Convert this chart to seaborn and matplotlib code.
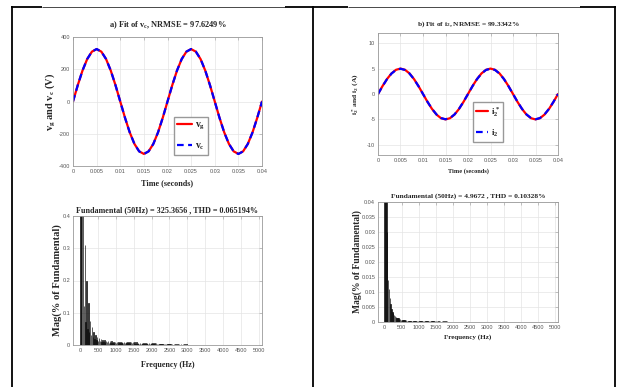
import numpy as np
import pandas as pd
import matplotlib
matplotlib.use("Agg")
import matplotlib.pyplot as plt
from matplotlib.lines import Line2D
from matplotlib.ticker import FuncFormatter, MultipleLocator
import seaborn as sns

# time samples of the two fitted waveforms (two 50 Hz cycles)
t = np.linspace(0, 0.04, 41)
v_g = [0, 100.4, 191.0, 262.9, 309.1, 325.0, 309.1, 262.9, 191.0, 100.4,
       0, -100.4, -191.0, -262.9, -309.1, -325.0, -309.1, -262.9, -191.0, -100.4,
       0, 100.4, 191.0, 262.9, 309.1, 325.0, 309.1, 262.9, 191.0, 100.4,
       0, -100.4, -191.0, -262.9, -309.1, -325.0, -309.1, -262.9, -191.0, -100.4, 0]
v_c = [0, 100.5, 191.2, 263.1, 309.3, 325.4, 309.4, 263.2, 191.3, 100.5,
       0, -100.5, -191.2, -263.1, -309.3, -325.4, -309.4, -263.2, -191.3, -100.5,
       0, 100.5, 191.2, 263.1, 309.3, 325.4, 309.4, 263.2, 191.3, 100.5,
       0, -100.5, -191.2, -263.1, -309.3, -325.4, -309.4, -263.2, -191.3, -100.5, 0]
i2_ref = [0, 1.55, 2.94, 4.05, 4.76, 5.0, 4.76, 4.05, 2.94, 1.55,
          0, -1.55, -2.94, -4.05, -4.76, -5.0, -4.76, -4.05, -2.94, -1.55,
          0, 1.55, 2.94, 4.05, 4.76, 5.0, 4.76, 4.05, 2.94, 1.55,
          0, -1.55, -2.94, -4.05, -4.76, -5.0, -4.76, -4.05, -2.94, -1.55, 0]
i2 = [0, 1.53, 2.92, 4.02, 4.73, 4.97, 4.73, 4.02, 2.92, 1.53,
      0, -1.53, -2.92, -4.02, -4.73, -4.97, -4.73, -4.02, -2.92, -1.53,
      0, 1.53, 2.92, 4.02, 4.73, 4.97, 4.73, 4.02, 2.92, 1.53,
      0, -1.53, -2.92, -4.02, -4.73, -4.97, -4.73, -4.02, -2.92, -1.53, 0]

# FFT magnitude (% of fundamental), 25 Hz bins from 0 to 3000 Hz
freq = np.arange(0, 3001, 25)
spec_vc = [
    0.75, 0.9, 100.0, 0.8, 0.12, 0.31, 0.07, 0.2, 0.05, 0.13,
    0.04, 0.075, 0.03, 0.055, 0.025, 0.04, 0.02, 0.032, 0.016, 0.026,
    0.013, 0.021, 0.011, 0.018, 0.010, 0.016, 0.009, 0.014, 0.008, 0.013,
    0.008, 0.012, 0.007, 0.011, 0.007, 0.011, 0.006, 0.010, 0.006, 0.010,
    0.006, 0.009, 0.005, 0.009, 0.005, 0.009, 0.005, 0.008, 0.005, 0.008,
    0.005, 0.008, 0.005, 0.008, 0.005, 0.009, 0.005, 0.009, 0.005, 0.009,
    0.006, 0.008, 0.004, 0.008, 0.004, 0.007, 0.004, 0.007, 0.004, 0.007,
    0.004, 0.007, 0.004, 0.006, 0.004, 0.006, 0.003, 0.006, 0.003, 0.006,
    0.003, 0.005, 0.003, 0.005, 0.003, 0.005, 0.003, 0.004, 0.002, 0.004,
    0.002, 0.004, 0.002, 0.004, 0.002, 0.003, 0.002, 0.003, 0.002, 0.003,
    0.002, 0.003, 0.001, 0.003, 0.001, 0.002, 0.001, 0.002, 0.001, 0.002,
    0.001, 0.002, 0.001, 0.002, 0.001, 0.002, 0.001, 0.002, 0.001, 0.002,
    0.001]
spec_i2 = [
    0.045, 0.06, 100.0, 0.03, 0.014, 0.011, 0.008, 0.006, 0.0045, 0.0035,
    0.003, 0.0025, 0.002, 0.0018, 0.0015, 0.0013, 0.0012, 0.001, 0.0009, 0.0008,
    0.0008, 0.0007, 0.0007, 0.0006, 0.0006, 0.0006, 0.0005, 0.0005, 0.0005, 0.0005,
    0.0004, 0.0005, 0.0004, 0.0004, 0.0004, 0.0004, 0.0003, 0.0004, 0.0003, 0.0004,
    0.0003, 0.0003, 0.0003, 0.0003, 0.0003, 0.0003, 0.0002, 0.0003, 0.0002, 0.0003,
    0.0002, 0.0003, 0.0002, 0.0002, 0.0002, 0.0002, 0.0002, 0.0002, 0.0002, 0.0002,
    0.0002, 0.0002, 0.0001, 0.0002, 0.0001, 0.0002, 0.0001, 0.0002, 0.0001, 0.0002,
    0.0001, 0.0002, 0.0001, 0.0002, 0.0001, 0.0001, 0.0001, 0.0001, 0.0001, 0.0001,
    0.0001, 0.0001, 0.0001, 0.0001, 0.0001, 0.0001, 0.0001, 0.0001, 0.0001, 0.0001,
    0.0001, 0.0001, 0.0001, 0.0001, 0.0001, 0.0001, 0.0001, 0.0001, 0.0001, 0.0001,
    0.0001, 0.0001, 0.0001, 0.0001, 0.0001, 0.0001, 0.0001, 0.0001, 0.0001, 0.0001,
    0.0001, 0.0001, 0.0001, 0.0001, 0.0001, 0.0001, 0.0001, 0.0001, 0.0001, 0.0001,
    0.0001]

W, H = 620, 387

sns.set_style("whitegrid")
plt.rcParams["font.family"] = ["Liberation Serif", "DejaVu Serif"]
plt.rcParams["font.weight"] = "bold"
plt.rcParams["mathtext.fontset"] = "custom"
plt.rcParams["mathtext.rm"] = "Liberation Serif:bold"
plt.rcParams["mathtext.it"] = "Liberation Serif:bold"
plt.rcParams["mathtext.bf"] = "Liberation Serif:bold"
plt.rcParams["axes.unicode_minus"] = False

fig = plt.figure(figsize=(W / 100, H / 100), dpi=100)


def px_axes(left, top, right, bottom):
    return fig.add_axes([left / W, 1 - bottom / H, (right - left) / W, (bottom - top) / H])


def style(ax):
    ax.set_facecolor("white")
    ax.grid(True, color="#e4e4e4", lw=0.5)
    ax.set_axisbelow(True)
    for s in ax.spines.values():
        s.set_color("#9a9a9a")
        s.set_linewidth(0.6)
    ax.tick_params(direction="in", length=2, width=0.4, colors="#9a9a9a",
                   labelcolor="#555555", labelsize=4, top=True, right=True, pad=2)
    for lab in ax.get_xticklabels() + ax.get_yticklabels():
        lab.set_family(["Liberation Sans Narrow", "Liberation Sans", "DejaVu Sans"])
        lab.set_weight("normal")
    fmt = FuncFormatter(lambda v, p: f"{v:g}")
    ax.xaxis.set_major_formatter(fmt)
    ax.yaxis.set_major_formatter(fmt)


def wave(ax, ref, fit, lab_ref, lab_fit):
    df = pd.DataFrame({"t": t, "ref": ref, "fit": fit})
    sns.lineplot(data=df, x="t", y="ref", color="red", lw=1.6, label=lab_ref, ax=ax)
    sns.lineplot(data=df, x="t", y="fit", color="blue", lw=1.6, label=lab_fit,
                 linestyle=(0, (3, 2)), ax=ax)
    ax.set_xlim(0, 0.04)
    ax.xaxis.set_major_locator(MultipleLocator(0.005))


def spectrum(ax, mag):
    df = pd.DataFrame({"f": freq, "m": mag})
    sns.barplot(data=df, x="f", y="m", native_scale=True, color="#3a3a3a",
                saturation=1, width=0.5, edgecolor="black", linewidth=0.45, ax=ax)
    ax.set_xticks(np.arange(0, 5001, 500))


# a) voltage
ax1 = px_axes(73, 37, 262, 166)
wave(ax1, v_g, v_c, "$v_g$", "$v_c$")
ax1.set_ylim(-400, 400)
ax1.yaxis.set_major_locator(MultipleLocator(200))
style(ax1)
ax1.set_title("a) Fit of $v_c$, NRMSE = 97.6249%", fontsize=6.0, fontweight="bold", pad=7)
ax1.set_xlabel("Time (seconds)", fontsize=5.9, fontweight="bold")
ax1.set_ylabel("$v_g$ and $v_c$ (V)", fontsize=7.5, fontweight="bold")
ax1.xaxis.set_label_coords(0.5, -0.10)
ax1.yaxis.set_label_coords(-0.085, 0.5)
ax1.legend(loc="lower left", bbox_to_anchor=(0.534, 0.085), fontsize=7,
           handlelength=1.5, labelspacing=0.9, borderpad=0.35, handletextpad=0.3,
           fancybox=False, edgecolor="#999999", framealpha=1, borderaxespad=0)

ax2 = px_axes(73, 216, 262, 345)
spectrum(ax2, spec_vc)
ax2.set_xlim(-205, 5095)
ax2.set_ylim(0, 0.4)
ax2.yaxis.set_major_locator(MultipleLocator(0.1))
style(ax2)
ax2.set_title("Fundamental (50Hz) = 325.3656 , THD = 0.065194%", fontsize=5.9,
              fontweight="bold", pad=2.4)
ax2.set_xlabel("Frequency (Hz)", fontsize=5.8, fontweight="bold")
ax2.set_ylabel("Mag(% of Fundamental)", fontsize=7.6, fontweight="bold")
ax2.xaxis.set_label_coords(0.5, -0.124)
ax2.yaxis.set_label_coords(-0.058, 0.5)

# b) current
ax3 = px_axes(378, 33, 558, 155)
wave(ax3, i2_ref, i2, "$i_2^*$", "$i_2$")
ax3.set_ylim(-12, 12)
ax3.yaxis.set_major_locator(MultipleLocator(5))
style(ax3)
ax3.set_title("b) Fit of $i_2$, NRMSE = 99.3342%", fontsize=5.3, fontweight="bold", pad=5)
ax3.set_xlabel("Time (seconds)", fontsize=4.6, fontweight="bold")
ax3.set_ylabel("$i_2^*$ and $i_2$ (A)", fontsize=5.4, fontweight="bold")
ax3.xaxis.set_label_coords(0.5, -0.107)
ax3.yaxis.set_label_coords(-0.094, 0.5)
ax3.legend(loc="lower left", bbox_to_anchor=(0.528, 0.107), fontsize=6.5,
           handlelength=1.3, labelspacing=1.0, borderpad=0.35, handletextpad=0.3,
           fancybox=False, edgecolor="#999999", framealpha=1, borderaxespad=0)

ax4 = px_axes(378, 202, 558, 322)
spectrum(ax4, spec_i2)
ax4.set_xlim(-196, 5076)
ax4.set_ylim(0, 0.04)
ax4.yaxis.set_major_locator(MultipleLocator(0.005))
style(ax4)
ax4.set_title("Fundamental (50Hz) = 4.9672 , THD = 0.10328%", fontsize=5.3,
              fontweight="bold", pad=3.4)
ax4.set_xlabel("Frequency (Hz)", fontsize=5.1, fontweight="bold")
ax4.set_ylabel("Mag(% of Fundamental)", fontsize=6.9, fontweight="bold")
ax4.xaxis.set_label_coords(0.5, -0.10)
ax4.yaxis.set_label_coords(-0.089, 0.5)


# table borders around the two panels
def border(x0, y0, x1, y1, lw):
    fig.add_artist(Line2D([x0 / W, x1 / W], [1 - y0 / H, 1 - y1 / H],
                          transform=fig.transFigure, color="black", lw=lw,
                          solid_capstyle="butt"))


thick, thin = 1.3, 0.5
border(11, 6.8, 42, 6.8, thick)
border(42, 6.8, 285, 6.8, thin)
border(285, 6.8, 348, 6.8, thick)
border(348, 6.8, 580, 6.8, thin)
border(580, 6.8, 615.5, 6.8, thick)
border(11.8, 6.2, 11.8, 387, thick)
border(313, 6.2, 313, 387, thick)
border(615, 6.2, 615, 387, thick)

fig.savefig("out.png", dpi=100, facecolor="white")
